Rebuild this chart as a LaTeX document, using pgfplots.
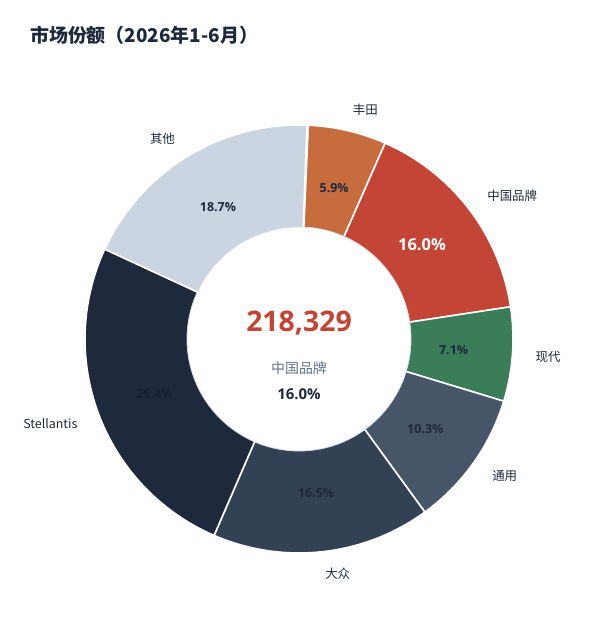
\documentclass[border=0pt]{standalone}
\usepackage{pgfplots}
\pgfplotsset{compat=1.18}
\usepackage{pgfplotstable}
\usepackage{fontspec}
\setmainfont{Open Sans}
\newfontfamily\cjk{Noto Sans CJK SC}
\definecolor{cToyota}{HTML}{C76D3D}
\definecolor{cChina}{HTML}{C44536}
\definecolor{cHyundai}{HTML}{3A7D58}
\definecolor{cGM}{HTML}{475569}
\definecolor{cVW}{HTML}{334155}
\definecolor{cStel}{HTML}{1E293B}
\definecolor{cOther}{HTML}{CBD5E1}
\definecolor{txtdark}{HTML}{1E293B}
\definecolor{txtdim}{HTML}{18202F}
\definecolor{cSub}{HTML}{64748B}
\definecolor{cBorder}{HTML}{D5DBE3}

\pgfplotstableread[col sep=comma]{
name,pct,fill,txt,size
丰田,5.9,cToyota,txtdark,12.5
中国品牌,16.0,cChina,white,16.5
现代,7.1,cHyundai,txtdark,12.5
通用,10.3,cGM,txtdark,12.5
大众,16.5,cVW,txtdark,12.5
Stellantis,25.4,cStel,txtdim,12.5
其他,18.7,cOther,txtdark,12.5
}\shares

\begin{document}
\begin{tikzpicture}
\begin{axis}[x=1bp,y=1bp,xmin=0,xmax=590,ymin=0,ymax=631,hide axis,clip=false]
\path (axis cs:0,0) rectangle (axis cs:590,631);
\def\cum{0}
\pgfplotsforeachungrouped \i in {0,...,6}{%
  \pgfplotstablegetelem{\i}{pct}\of\shares\let\pct\pgfplotsretval
  \pgfplotstablegetelem{\i}{fill}\of\shares\let\fc\pgfplotsretval
  \pgfplotstablegetelem{\i}{txt}\of\shares\let\tc\pgfplotsretval
  \pgfplotstablegetelem{\i}{size}\of\shares\let\fs\pgfplotsretval
  \pgfplotstablegetelem{\i}{name}\of\shares\let\nm\pgfplotsretval
  \pgfmathsetmacro\sa{87.5-3.6*\cum}%
  \pgfmathsetmacro\ea{87.5-3.6*(\cum+\pct)}%
  \pgfmathsetmacro\ma{(\sa+\ea)/2}%
  \pgfmathsetmacro\cum{\cum+\pct}%
  \pgfmathsetmacro\lx{299+237*cos(\ma)}%
  \pgfmathsetmacro\ly{291.5+236*sin(\ma)}%
  \pgfmathsetmacro\px{299+155*cos(\ma)}%
  \pgfmathsetmacro\py{292+155*sin(\ma)}%
  \pgfmathparse{cos(\ma)>0}%
  \ifdim\pgfmathresult pt>0.5pt \def\anc{west}\else\def\anc{east}\fi
  \edef\cmd{%
    \noexpand\fill[\fc,draw=white,line width=1.6bp] (axis cs:299,292) -- ++(\sa:214bp) arc[start angle=\sa,end angle=\ea,radius=214bp] -- cycle;
    \noexpand\node[anchor=\anc,text=txtdark,inner sep=0pt,font=\noexpand\cjk\noexpand\fontsize{12.5}{14}\noexpand\selectfont] at (axis cs:\lx,\ly) {\nm};
    \noexpand\node[text=\tc,inner sep=0pt,font=\noexpand\bfseries\noexpand\fontsize{\fs}{\fs}\noexpand\selectfont] at (axis cs:\px,\py) {\pct\noexpand\%};
  }\cmd
}
\fill[white,draw=cBorder,line width=0.8bp] (axis cs:299,292) circle[radius=112bp];
\node[text=cChina,inner sep=0pt,font=\bfseries\fontsize{28.5}{30}\selectfont] at (axis cs:299,308) {218,329};
\node[text=cSub,inner sep=0pt,font=\cjk\fontsize{14}{16}\selectfont] at (axis cs:299,263) {中国品牌};
\node[text=txtdark,inner sep=0pt,font=\bfseries\fontsize{15}{17}\selectfont] at (axis cs:299,237) {16.0\%};
\node[anchor=west,text=txtdark,inner sep=0pt,font=\cjk\bfseries\fontsize{19}{21}\selectfont] at (axis cs:30,596) {市场份额（2026年1-6月）};
\end{axis}
\end{tikzpicture}
\end{document}
